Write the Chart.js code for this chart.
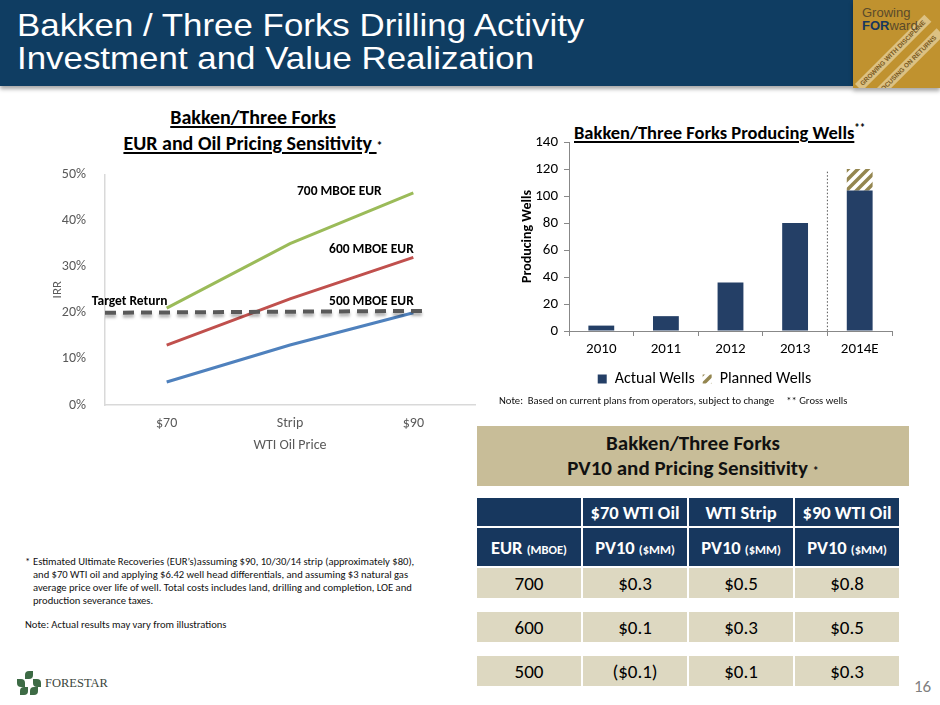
<!DOCTYPE html>
<html>
<head>
<meta charset="utf-8">
<script src="https://cdn.jsdelivr.net/npm/chart.js@4.4.1/dist/chart.umd.min.js"></script>
<style>
  body { margin: 0; width: 940px; height: 705px; position: relative; background: #fff; overflow: hidden;
         font-family: Carlito, Lato, "Liberation Sans", sans-serif; }
  .abs { position: absolute; }
  #header { left: 0; top: 0; width: 853px; height: 86px; background: #0f3d62;
            box-shadow: 0 3px 4px rgba(0,0,0,0.35); }
  #header .t { position: absolute; left: 17px; color: #fff; font-family: "Liberation Sans", Arial, sans-serif;
               font-size: 32px; line-height: 33px; top: 9px; white-space: nowrap; transform-origin: 0 0; transform: scaleX(1.09); }
  #badge { left: 853px; top: 0; width: 87px; height: 88px; background: #c0922f; box-shadow: 0 3px 4px rgba(0,0,0,0.35); overflow: hidden; }
  #badge .g { position: absolute; left: 9px; top: 6px; font-family: "Liberation Sans", sans-serif; font-size: 13px; line-height: 13px; color: #5a4a2a; }
  #badge .g b { color: #17375e; }
  #badge .band { position: absolute; height: 10px; background: #dcc183; transform: rotate(-45deg); transform-origin: 0 0;
                 font-family: "Liberation Sans", sans-serif; font-size: 6.5px; line-height: 10px; color: #7a5a1f; font-weight: bold;
                 white-space: nowrap; padding-left: 4px; box-sizing: border-box; }
  .ctitle { text-align: center; font-weight: bold; color: #000; white-space: nowrap; }
  .ctitle u { text-decoration-thickness: 1.5px; text-underline-offset: 2px; }
  #foot { left: 25px; top: 555px; width: 398px; font-size: 10.6px; line-height: 13px; color: #111; }
  #tbox { left: 477px; top: 426px; width: 432px; height: 60px; background: #c8bd98; text-align: center;
          font-weight: bold; font-size: 21px; line-height: 25px; padding-top: 5px; box-sizing: border-box; color: #111; }
  table { position: absolute; left: 475px; top: 496px; border-collapse: separate; border-spacing: 2px; }
  td { width: 104px; padding: 0; text-align: center; font-size: 19px; }
  td.h { background: #17375e; color: #fff; font-weight: bold; height: 28px; font-size: 18.5px; }
  td.h small { font-size: 12.5px; }
  td.h2 { height: 38px; }
  td.d { background: #ddd8c1; color: #000; height: 30px; }
  tr.gap td { height: 10px; background: transparent; }
</style>
</head>
<body>
<div id="header" class="abs">
  <div class="t">Bakken / Three Forks Drilling Activity<br>Investment and Value Realization</div>
</div>
<div id="badge" class="abs">
  <div class="band" style="left:2px; top:84px; width:98px;">GROWING WITH DISCIPLINE</div>
  <div class="band" style="left:20px; top:92px; width:90px;">FOCUSING ON RETURNS</div>
  <div class="g">Growing<br><b>FOR</b>ward</div>
</div>

<div class="abs ctitle" style="left:40px; top:104px; width:426px; font-size:20px; line-height:26px;">
  <u>Bakken/Three Forks</u><br><u>EUR and Oil Pricing Sensitivity </u> <span style="font-size:12px">*</span>
</div>
<canvas id="irrChart" class="abs" width="455" height="300" style="left:30px; top:155px;"></canvas>

<div class="abs ctitle" style="left:574px; top:121px; font-size:18.5px;">
  <u>Bakken/Three Forks Producing Wells</u><sup style="font-size:11px">**</sup>
</div>
<canvas id="wellsChart" class="abs" width="420" height="270" style="left:490px; top:127px;"></canvas>
<div class="abs" style="left:499px; top:394px; font-size:10.6px; color:#111; white-space:pre;">Note:  Based on current plans from operators, subject to change     ** Gross wells</div>

<div id="foot" class="abs">
  <div style="position:relative; padding-left:8px;"><span style="position:absolute; left:0; top:0;">*</span>Estimated Ultimate Recoveries (EUR’s)assuming $90, 10/30/14 strip (approximately $80), and $70 WTI oil and applying $6.42 well head differentials, and assuming $3 natural gas average price over life of well. Total costs includes land, drilling and completion, LOE and production severance taxes.</div>
  <div style="margin-top:11px;">Note: Actual results may vary from illustrations</div>
</div>

<div class="abs" style="left:17px; top:671px; width:24px; height:24px;">
  <div class="abs" style="left:8px; top:0; width:8px; height:8px; border-radius:50% 0; background:#3d6b45;"></div>
  <div class="abs" style="left:0; top:8px; width:8px; height:8px; border-radius:0 50%; background:#3d6b45;"></div>
  <div class="abs" style="left:16px; top:8px; width:8px; height:8px; border-radius:0 50%; background:#3d6b45;"></div>
  <div class="abs" style="left:3px; top:16px; width:8px; height:8px; border-radius:50% 0; background:#3d6b45;"></div>
  <div class="abs" style="left:13px; top:16px; width:8px; height:8px; border-radius:50% 0; background:#3d6b45;"></div>
</div>
<div class="abs" style="left:45px; top:676px; font-family:'Liberation Serif', serif; font-size:12.5px; color:#3a463c;">FORESTAR</div>

<div id="tbox" class="abs">Bakken/Three Forks<br>PV10 and Pricing Sensitivity <span style="font-size:12px">*</span></div>
<table>
  <tr><td class="h"></td><td class="h">$70 WTI Oil</td><td class="h">WTI Strip</td><td class="h">$90 WTI Oil</td></tr>
  <tr><td class="h h2">EUR <small>(MBOE)</small></td><td class="h h2">PV10 <small>($MM)</small></td><td class="h h2">PV10 <small>($MM)</small></td><td class="h h2">PV10 <small>($MM)</small></td></tr>
  <tr><td class="d">700</td><td class="d">$0.3</td><td class="d">$0.5</td><td class="d">$0.8</td></tr>
  <tr class="gap"><td></td><td></td><td></td><td></td></tr>
  <tr><td class="d">600</td><td class="d">$0.1</td><td class="d">$0.3</td><td class="d">$0.5</td></tr>
  <tr class="gap"><td></td><td></td><td></td><td></td></tr>
  <tr><td class="d">500</td><td class="d">($0.1)</td><td class="d">$0.1</td><td class="d">$0.3</td></tr>
</table>
<div class="abs" style="left:914px; top:676px; font-size:17px; color:#7f7f7f;">16</div>

<script>
// IRR sensitivity chart data
const priceLabels = ['$70', 'Strip', '$90'];
const irr700 = [21, 35, 46];
const irr600 = [13, 23, 32];
const irr500 = [5, 13, 20];
const targetStart = 20;
const targetEnd = 20.4;
const curveNotes = [
    { text: '700 MBOE EUR', x: 1.9, y: 46.2 },
    { text: '600 MBOE EUR', x: 2.16, y: 33.6 },
    { text: '500 MBOE EUR', x: 2.16, y: 22.4 },
    { text: 'Target Return', x: 0.2, y: 22.4 }
];

// Producing wells chart data
const wellYears = ['2010', '2011', '2012', '2013', '2014E'];
const actualWells = [4, 11, 36, 80, 104];
const plannedWells = [null, null, null, null, 16];

const FONT = 'Carlito, Lato, "Liberation Sans", sans-serif';

// points sit in the middle of each price slot
function toPoints(values) {
    return values.map((v, i) => ({ x: i + 0.5, y: v }));
}

// Text notes placed by data coordinates
const notesPlugin = {
    id: 'notes',
    afterDatasetsDraw(chart) {
        const ctx = chart.ctx;
        ctx.save();
        ctx.font = 'bold 13.5px ' + FONT;
        ctx.fillStyle = '#000';
        ctx.textAlign = 'center';
        ctx.textBaseline = 'middle';
        curveNotes.forEach(n => {
            ctx.fillText(n.text, chart.scales.x.getPixelForValue(n.x), chart.scales.y.getPixelForValue(n.y));
        });
        ctx.restore();
    }
};

// soft shadow under the target line
const shadowPlugin = {
    id: 'shadow',
    beforeDatasetDraw(chart, args) {
        if (args.meta.label !== 'Target') return;
        const ctx = chart.ctx;
        ctx.save();
        ctx.shadowColor = 'rgba(0,0,0,0.3)';
        ctx.shadowOffsetY = 3;
        ctx.shadowBlur = 3;
    },
    afterDatasetDraw(chart, args) {
        if (args.meta.label !== 'Target') return;
        chart.ctx.restore();
    }
};

new Chart(document.getElementById('irrChart'), {
    type: 'line',
    data: {
        datasets: [
            { label: 'Target', data: [{ x: 0, y: targetStart }, { x: 2.57, y: targetEnd }],
              borderColor: '#595959', borderWidth: 4, borderDash: [11, 7], pointRadius: 0 },
            { label: '700', data: toPoints(irr700), borderColor: '#9bbb59', borderWidth: 3, pointRadius: 0 },
            { label: '600', data: toPoints(irr600), borderColor: '#c0504d', borderWidth: 3, pointRadius: 0 },
            { label: '500', data: toPoints(irr500), borderColor: '#4f81bd', borderWidth: 3, pointRadius: 0 }
        ]
    },
    options: {
        responsive: false,
        animation: false,
        layout: { padding: { top: 16, right: 10, left: 0, bottom: 0 } },
        plugins: { legend: { display: false }, tooltip: { enabled: false } },
        scales: {
            x: {
                type: 'linear', min: 0, max: 3,
                afterBuildTicks: s => { s.ticks = priceLabels.map((_, i) => ({ value: i + 0.5 })); },
                afterFit: s => { s.height = 50; },
                grid: { display: false },
                border: { display: true, color: '#d9d9d9', width: 1.5 },
                ticks: { callback: v => priceLabels[Math.round(v - 0.5)], color: '#595959', font: { size: 14, family: FONT }, padding: 2 },
                title: { display: true, text: 'WTI Oil Price', color: '#595959', font: { size: 14, family: FONT }, padding: { top: 2, bottom: 1 } }
            },
            y: {
                min: 0, max: 50,
                afterFit: s => { s.width = 75; },
                grid: { display: false },
                border: { display: true, color: '#d9d9d9', width: 1.5 },
                ticks: { stepSize: 10, callback: v => v + '%', color: '#595959', font: { size: 14, family: FONT }, padding: 11 },
                title: { display: true, text: 'IRR', color: '#595959', font: { size: 13, family: FONT }, padding: { top: 20 } }
            }
        }
    },
    plugins: [notesPlugin, shadowPlugin]
});

// diagonal hatch for planned wells
function makeHatch() {
    const c = document.createElement('canvas');
    c.width = 10; c.height = 10;
    const g = c.getContext('2d');
    g.fillStyle = '#ffffff';
    g.fillRect(0, 0, 10, 10);
    g.strokeStyle = '#948650';
    g.lineWidth = 3.5;
    g.beginPath();
    g.moveTo(-5, 5); g.lineTo(5, -5);
    g.moveTo(0, 10); g.lineTo(10, 0);
    g.moveTo(5, 15); g.lineTo(15, 5);
    g.stroke();
    return g.createPattern(c, 'repeat');
}

// dotted divider between actual years and the estimate
const dividerPlugin = {
    id: 'divider',
    afterDatasetsDraw(chart) {
        const x = chart.scales.x, y = chart.scales.y;
        const px = (x.getPixelForValue(3) + x.getPixelForValue(4)) / 2;
        const ctx = chart.ctx;
        ctx.save();
        ctx.strokeStyle = '#555';
        ctx.lineWidth = 1;
        ctx.setLineDash([1.5, 2]);
        ctx.beginPath();
        ctx.moveTo(px, y.getPixelForValue(118));
        ctx.lineTo(px, y.getPixelForValue(0));
        ctx.stroke();
        ctx.restore();
    }
};

new Chart(document.getElementById('wellsChart'), {
    type: 'bar',
    data: {
        labels: wellYears,
        datasets: [
            { label: 'Actual Wells', data: actualWells, backgroundColor: '#243f66', barPercentage: 0.5, categoryPercentage: 0.8 },
            { label: 'Planned Wells', data: plannedWells, backgroundColor: makeHatch(), barPercentage: 0.5, categoryPercentage: 0.8 }
        ]
    },
    options: {
        responsive: false,
        animation: false,
        // left padding keeps the legend centred under the plot
        layout: { padding: { top: 0, right: 18, left: 27, bottom: 0 } },
        plugins: {
            tooltip: { enabled: false },
            legend: {
                position: 'bottom',
                labels: { boxWidth: 9, boxHeight: 9, color: '#000', font: { size: 16, family: FONT }, padding: 8 }
            }
        },
        scales: {
            x: {
                stacked: true,
                afterFit: s => { s.height = 32; },
                grid: { drawOnChartArea: false, tickLength: 5, color: '#888' },
                border: { color: '#888' },
                ticks: { color: '#000', font: { size: 15, family: FONT }, padding: 4 }
            },
            y: {
                stacked: true, min: 0, max: 140,
                afterFit: s => { s.width = 52; },
                grid: { drawOnChartArea: false, tickLength: 5, color: '#888' },
                border: { color: '#888' },
                ticks: { stepSize: 20, color: '#000', font: { size: 15, family: FONT }, padding: 6 },
                title: { display: true, text: 'Producing Wells', color: '#000', font: { size: 14, weight: 'bold', family: FONT }, padding: { top: 2 } }
            }
        }
    },
    plugins: [dividerPlugin]
});
</script>
</body>
</html>
